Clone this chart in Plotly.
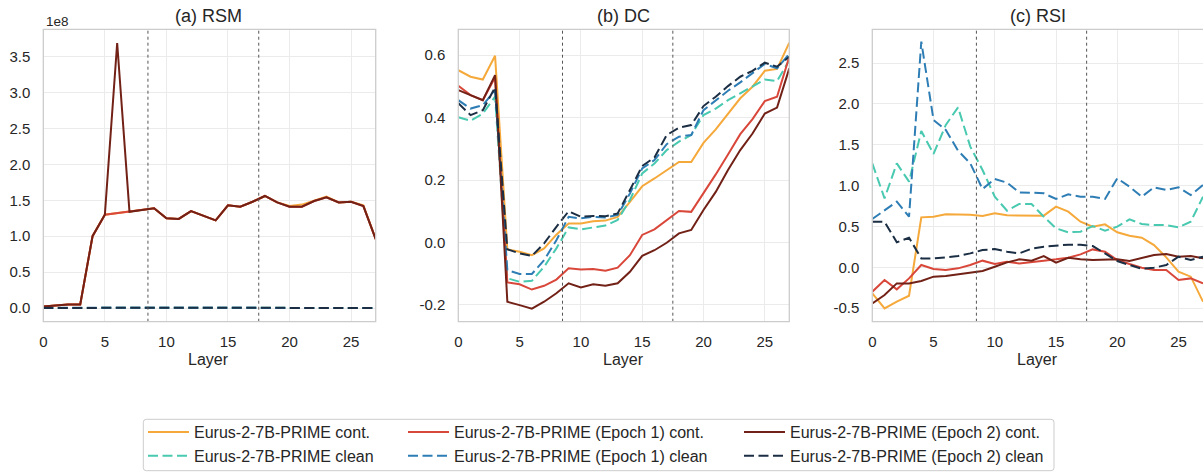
import plotly.graph_objects as go

LAYERS = list(range(28))

NAMES = [
    "Eurus-2-7B-PRIME cont.",
    "Eurus-2-7B-PRIME clean",
    "Eurus-2-7B-PRIME (Epoch 1) cont.",
    "Eurus-2-7B-PRIME (Epoch 1) clean",
    "Eurus-2-7B-PRIME (Epoch 2) cont.",
    "Eurus-2-7B-PRIME (Epoch 2) clean",
]
COLORS = ["#F6A93B", "#48C9B0", "#D9473A", "#2E7EB5", "#722117", "#1B2E44"]
DASHED = [False, True, False, True, False, True]
LEGEND_COL = ["legend", "legend", "legend2", "legend2", "legend3", "legend3"]

# (a) RSM, in units of 1e8
rsm_base_cont = [0.02, 0.04, 0.05, 0.05, 1.00, 1.30, 1.32, 1.34, 1.37, 1.39, 1.25, 1.24, 1.35, 1.29,
                 1.22, 1.43, 1.41, 1.48, 1.56, 1.47, 1.42, 1.44, 1.50, 1.55, 1.47, 1.48, 1.43, 0.96]
rsm_base_clean = [0.002, 0.003, 0.002, 0.002, 0.003, 0.003, 0.003, 0.003, 0.003, 0.003, 0.003, 0.003, 0.003, 0.003,
                  0.003, 0.003, 0.003, 0.003, 0.003, 0.003, 0.003, 0.003, 0.003, 0.003, 0.003, 0.003, 0.003, 0.002]
rsm_e1_cont = [0.02, 0.04, 0.05, 0.05, 1.00, 1.30, 1.32, 1.34, 1.37, 1.39, 1.25, 1.24, 1.35, 1.29,
               1.22, 1.43, 1.41, 1.48, 1.56, 1.47, 1.41, 1.41, 1.49, 1.54, 1.47, 1.48, 1.42, 0.96]
rsm_e1_clean = [0.004, 0.006, 0.004, 0.003, 0.003, 0.003, 0.003, 0.003, 0.003, 0.003, 0.003, 0.003, 0.003, 0.003,
                0.003, 0.003, 0.003, 0.003, 0.003, 0.003, 0.003, 0.003, 0.003, 0.003, 0.003, 0.003, 0.003, 0.002]
rsm_e2_cont = [0.02, 0.04, 0.05, 0.05, 1.00, 1.30, 3.69, 1.34, 1.37, 1.39, 1.25, 1.24, 1.35, 1.29,
               1.22, 1.43, 1.41, 1.48, 1.56, 1.47, 1.41, 1.41, 1.49, 1.54, 1.47, 1.48, 1.42, 0.96]
rsm_e2_clean = [0.002, 0.003, 0.002, 0.002, 0.003, 0.003, 0.003, 0.003, 0.003, 0.003, 0.003, 0.003, 0.003, 0.003,
                0.003, 0.003, 0.003, 0.003, 0.003, 0.003, 0.003, 0.003, 0.003, 0.003, 0.003, 0.003, 0.003, 0.002]
RSM_SCALE = 1e8

# (b) DC
dc_base_cont = [0.552, 0.531, 0.522, 0.598, -0.022, -0.030, -0.041, -0.019, 0.025, 0.061, 0.061, 0.068, 0.070, 0.082,
                0.130, 0.180, 0.205, 0.232, 0.258, 0.258, 0.319, 0.362, 0.413, 0.462, 0.499, 0.550, 0.556, 0.640]
dc_base_clean = [0.401, 0.390, 0.413, 0.467, -0.115, -0.126, -0.123, -0.078, -0.019, 0.048, 0.042, 0.048, 0.054, 0.072,
                 0.136, 0.221, 0.253, 0.296, 0.323, 0.344, 0.408, 0.429, 0.456, 0.478, 0.501, 0.522, 0.517, 0.584]
dc_e1_cont = [0.502, 0.472, 0.456, 0.529, -0.128, -0.134, -0.151, -0.139, -0.119, -0.083, -0.087, -0.085, -0.091, -0.081,
              -0.041, 0.024, 0.042, 0.072, 0.101, 0.098, 0.157, 0.218, 0.282, 0.347, 0.395, 0.453, 0.467, 0.595]
dc_e1_clean = [0.456, 0.429, 0.440, 0.488, -0.089, -0.101, -0.101, -0.057, 0.007, 0.082, 0.077, 0.082, 0.080, 0.088,
               0.157, 0.237, 0.264, 0.315, 0.339, 0.344, 0.424, 0.456, 0.486, 0.513, 0.544, 0.572, 0.558, 0.604]
dc_e2_cont = [0.488, 0.472, 0.456, 0.536, -0.190, -0.201, -0.212, -0.190, -0.163, -0.131, -0.144, -0.134, -0.139, -0.131,
              -0.094, -0.043, -0.025, -0.001, 0.029, 0.040, 0.104, 0.162, 0.232, 0.296, 0.349, 0.413, 0.432, 0.558]
dc_e2_clean = [0.446, 0.408, 0.424, 0.497, -0.022, -0.035, -0.043, -0.003, 0.050, 0.100, 0.082, 0.085, 0.084, 0.093,
               0.168, 0.245, 0.272, 0.344, 0.368, 0.376, 0.437, 0.467, 0.501, 0.531, 0.550, 0.576, 0.563, 0.595]

# (c) RSI
rsi_base_cont = [-0.318, -0.502, -0.420, -0.347, 0.612, 0.620, 0.649, 0.649, 0.645, 0.629, 0.661, 0.637, 0.637, 0.637,
                 0.633, 0.743, 0.682, 0.559, 0.498, 0.527, 0.429, 0.388, 0.363, 0.273, 0.122, -0.053, -0.114, -0.420]
rsi_base_clean = [1.273, 0.845, 1.273, 1.049, 1.669, 1.388, 1.743, 1.959, 1.478, 1.192, 0.865, 0.694, 0.776, 0.776,
                  0.620, 0.478, 0.429, 0.437, 0.506, 0.449, 0.498, 0.588, 0.531, 0.518, 0.518, 0.490, 0.559, 0.865]
rsi_e1_cont = [-0.298, -0.155, -0.269, -0.135, 0.029, -0.020, -0.033, -0.012, 0.029, 0.082, 0.041, 0.069, 0.049, 0.069,
               0.082, 0.098, 0.118, 0.159, 0.220, 0.192, 0.090, 0.041, -0.004, -0.033, -0.033, -0.155, -0.135, -0.196]
rsi_e1_clean = [0.592, 0.702, 0.804, 0.620, 2.763, 1.804, 1.682, 1.429, 1.273, 0.959, 1.082, 1.037, 0.918, 0.914,
                0.906, 0.837, 0.894, 0.865, 0.865, 0.837, 1.090, 0.988, 0.865, 0.980, 0.947, 0.980, 0.886, 1.008]
rsi_e2_cont = [-0.441, -0.339, -0.196, -0.196, -0.167, -0.114, -0.106, -0.086, -0.065, -0.045, 0.008, 0.061, 0.098, 0.082,
               0.139, 0.057, 0.118, 0.098, 0.090, 0.098, 0.098, 0.078, 0.110, 0.151, 0.163, 0.131, 0.139, 0.110]
rsi_e2_clean = [0.559, 0.559, 0.306, 0.363, 0.110, 0.110, 0.122, 0.139, 0.171, 0.212, 0.224, 0.192, 0.171, 0.229,
                0.253, 0.265, 0.278, 0.278, 0.261, 0.171, 0.078, 0.029, -0.016, -0.004, 0.029, 0.131, 0.090, 0.131]

PANEL_TITLES = ["(a) RSM", "(b) DC", "(c) RSI"]
X_TICKS = [0, 5, 10, 15, 20, 25]
RSM_TICKS = [0.0, 0.5, 1.0, 1.5, 2.0, 2.5, 3.0, 3.5]
DC_TICKS = [-0.2, 0.0, 0.2, 0.4, 0.6]
RSI_TICKS = [-0.5, 0.0, 0.5, 1.0, 1.5, 2.0, 2.5]
SPLITS = [8.5, 17.5]

# the page body margin is removed (see post_script), so the figure fills the window
W, H = 1203, 472
FONT = "Liberation Sans, Arial, sans-serif"
TXT = "#262626"


def px_x(p):
    return p / W


def px_y(p):
    return 1 - p / H


panels = [
    [[v * RSM_SCALE for v in s] for s in [rsm_base_cont, rsm_base_clean, rsm_e1_cont, rsm_e1_clean, rsm_e2_cont, rsm_e2_clean]],
    [dc_base_cont, dc_base_clean, dc_e1_cont, dc_e1_clean, dc_e2_cont, dc_e2_clean],
    [rsi_base_cont, rsi_base_clean, rsi_e1_cont, rsi_e1_clean, rsi_e2_cont, rsi_e2_clean],
]

fig = go.Figure()
for p, series in enumerate(panels):
    xa = "x" if p == 0 else f"x{p + 1}"
    ya = "y" if p == 0 else f"y{p + 1}"
    for i, ys in enumerate(series):
        fig.add_trace(go.Scatter(
            x=LAYERS, y=list(ys), mode="lines", name=NAMES[i],
            line=dict(color=COLORS[i], width=2, dash="10px,4.5px" if DASHED[i] else "solid"),
            xaxis=xa, yaxis=ya, showlegend=(p == 0), legend=LEGEND_COL[i],
            hoverinfo="skip",
        ))

x_domains = [(px_x(43.3), px_x(375.7)), (px_x(458.3), px_x(789.3)), (px_x(872.3), 1.0)]
y_domain = (px_y(321.7), px_y(29.3))
y_ranges = [(-0.19e8, 3.88e8), (-0.254, 0.683), (-0.665, 2.914)]
y_tickvals = [[t * RSM_SCALE for t in RSM_TICKS], DC_TICKS, RSI_TICKS]
y_ticktext = [[f"{t:.1f}" for t in RSM_TICKS], [f"{t:.1f}" for t in DC_TICKS], [f"{t:.1f}" for t in RSI_TICKS]]

axis_common = dict(
    showgrid=True, gridcolor="#EBEBEB", gridwidth=1, zeroline=False, showline=False,
    ticks="", tickfont=dict(family=FONT, size=15, color=TXT), fixedrange=True, automargin=False,
)

layout = dict(
    width=W, height=H, margin=dict(l=0, r=0, t=0, b=0, autoexpand=False),
    paper_bgcolor="white", plot_bgcolor="white",
    font=dict(family=FONT, color=TXT),
    showlegend=True,
)
shapes = []
annotations = []
for p in range(3):
    xk = "xaxis" if p == 0 else f"xaxis{p + 1}"
    yk = "yaxis" if p == 0 else f"yaxis{p + 1}"
    xa = "x" if p == 0 else f"x{p + 1}"
    ya = "y" if p == 0 else f"y{p + 1}"
    layout[xk] = dict(axis_common, domain=list(x_domains[p]), range=[0, 27], tickvals=X_TICKS,
                      ticktext=[str(t) for t in X_TICKS], anchor=ya, ticklabelstandoff=9)
    layout[yk] = dict(axis_common, domain=list(y_domain), range=list(y_ranges[p]), tickvals=y_tickvals[p],
                      ticktext=y_ticktext[p], anchor=xa, ticklabelstandoff=12)
    for s in SPLITS:
        shapes.append(dict(type="line", xref=xa, yref=f"{ya} domain", x0=s, x1=s, y0=0, y1=1,
                           line=dict(color="#555555", width=1, dash="dot"), layer="above"))
    x1 = 1.006 if p == 2 else 1
    shapes.append(dict(type="rect", xref=f"{xa} domain", yref=f"{ya} domain", x0=0, x1=x1, y0=0, y1=1,
                       line=dict(color="#CCCCCC", width=1.3), layer="above"))
    xc = x_domains[p][0] + 331.3 / W / 2
    annotations.append(dict(text=PANEL_TITLES[p], xref="paper", yref="paper", x=xc, y=px_y(4),
                            xanchor="center", yanchor="top", showarrow=False,
                            font=dict(family=FONT, size=18, color=TXT)))
    annotations.append(dict(text="Layer", xref="paper", yref="paper", x=xc, y=px_y(359),
                            xanchor="center", yanchor="middle", showarrow=False,
                            font=dict(family=FONT, size=16, color=TXT)))

annotations.append(dict(text="1e8", xref="paper", yref="paper", x=px_x(44), y=px_y(21.5),
                        xanchor="left", yanchor="middle", showarrow=False,
                        font=dict(family=FONT, size=13.5, color=TXT)))

# legend frame with rounded corners
lx0, lx1, ly0, ly1, r = 143.3, 1054, 419.3, 470.7, 3
path = (f"M {px_x(lx0 + r)},{px_y(ly0)} L {px_x(lx1 - r)},{px_y(ly0)} "
        f"Q {px_x(lx1)},{px_y(ly0)} {px_x(lx1)},{px_y(ly0 + r)} "
        f"L {px_x(lx1)},{px_y(ly1 - r)} Q {px_x(lx1)},{px_y(ly1)} {px_x(lx1 - r)},{px_y(ly1)} "
        f"L {px_x(lx0 + r)},{px_y(ly1)} Q {px_x(lx0)},{px_y(ly1)} {px_x(lx0)},{px_y(ly1 - r)} "
        f"L {px_x(lx0)},{px_y(ly0 + r)} Q {px_x(lx0)},{px_y(ly0)} {px_x(lx0 + r)},{px_y(ly0)} Z")
shapes.append(dict(type="path", xref="paper", yref="paper", path=path,
                   line=dict(color="#CCCCCC", width=1), fillcolor="rgba(0,0,0,0)", layer="below"))

legend_common = dict(orientation="v", xanchor="left", yanchor="top", bgcolor="rgba(0,0,0,0)",
                     borderwidth=0, font=dict(family=FONT, size=16, color=TXT), itemwidth=41,
                     tracegroupgap=0, traceorder="normal")
legend_x = [143, 403, 739]
for k, name in enumerate(["legend", "legend2", "legend3"]):
    layout[name] = dict(legend_common, x=px_x(legend_x[k]), y=px_y(415))

layout["shapes"] = shapes
layout["annotations"] = annotations
fig.update_layout(**layout)
fig.write_html("out.html", config={"displayModeBar": False},
               post_script="document.body.style.margin='0';document.body.style.overflow='hidden';")
